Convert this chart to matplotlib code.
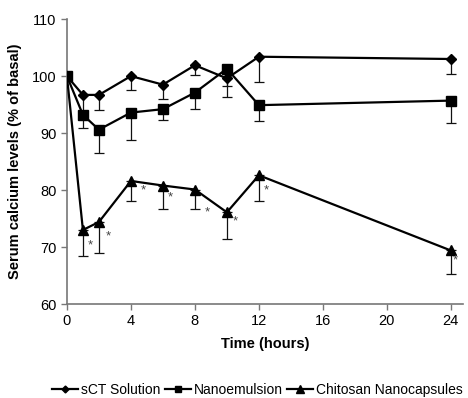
import numpy as np
import matplotlib
matplotlib.use("Agg")
import matplotlib.pyplot as plt

plt.rcParams['font.family'] = ['Liberation Sans', 'DejaVu Sans']

time_h = [0, 1, 2, 4, 6, 8, 10, 12, 24]

sct_mean = [100, 96.7, 96.7, 100.0, 98.5, 101.9, 99.6, 103.4, 103.0]
sct_err = [0, 4.1, 2.7, 2.5, 2.6, 1.7, 3.2, 4.5, 2.7]

nano_mean = [100, 93.2, 90.6, 93.6, 94.2, 97.1, 101.3, 94.9, 95.7]
nano_err = [0, 2.3, 4.1, 4.8, 1.9, 2.9, 3.0, 2.8, 3.9]

chit_mean = [100, 73.0, 74.4, 81.6, 80.8, 80.1, 76.1, 82.6, 69.4]
chit_err = [0, 4.5, 5.5, 3.6, 4.2, 3.5, 4.7, 4.5, 4.2]

# asterisks next to the chitosan points (x, y)
star_x = [1.45, 2.6, 4.75, 6.45, 8.75, 10.55, 12.45, 24.3]
star_y = [70.3, 71.9, 80.0, 78.7, 76.1, 74.5, 80.0, 67.7]

series = [
    ("sCT Solution", sct_mean, sct_err, "D", 5),
    ("Nanoemulsion", nano_mean, nano_err, "s", 6.5),
    ("Chitosan Nanocapsules", chit_mean, chit_err, "^", 7.5),
]

fig = plt.figure(figsize=(4.68, 3.98), dpi=100)
ax = fig.add_axes([0.143, 0.236, 0.846, 0.716])

handles = []
for label, m, e, mk, ms in series:
    ax.errorbar(time_h, m, yerr=[e, [0] * len(e)], fmt="none",
                ecolor="#111111", elinewidth=0.9, capsize=3.5, capthick=0.9, zorder=2)
    h, = ax.plot(time_h, m, color="black", lw=1.6, marker=mk, ms=ms,
                 markerfacecolor="black", markeredgecolor="black", label=label, zorder=3)
    handles.append(h)

for sx, sy in zip(star_x, star_y):
    ax.text(sx, sy, "*", ha="center", va="center", fontsize=9.5, color="#444444")

ax.set_xlim(0, 24.75)
ax.set_ylim(60, 110)
ax.set_xticks([0, 4, 8, 12, 16, 20, 24])
ax.set_yticks([60, 70, 80, 90, 100, 110])
ax.tick_params(labelsize=10.5, direction="out", length=4, width=1, color="#777777")
for s in ["top", "right"]:
    ax.spines[s].set_visible(False)
for s in ["left", "bottom"]:
    ax.spines[s].set_color("#777777")
    ax.spines[s].set_linewidth(1.2)

ax.set_xlabel("Time (hours)", fontsize=10.5, fontweight="bold", labelpad=6)
ax.set_ylabel("Serum calcium levels (% of basal)", fontsize=10.5, fontweight="bold", labelpad=7)

fig.legend(handles=handles, loc="center", bbox_to_anchor=(0.55, 0.02), ncol=3,
           frameon=False, fontsize=10, handlelength=1.9, handletextpad=0.2,
           columnspacing=0.3, borderaxespad=0, markerscale=0.7)

fig.savefig("out.png", dpi=100)
